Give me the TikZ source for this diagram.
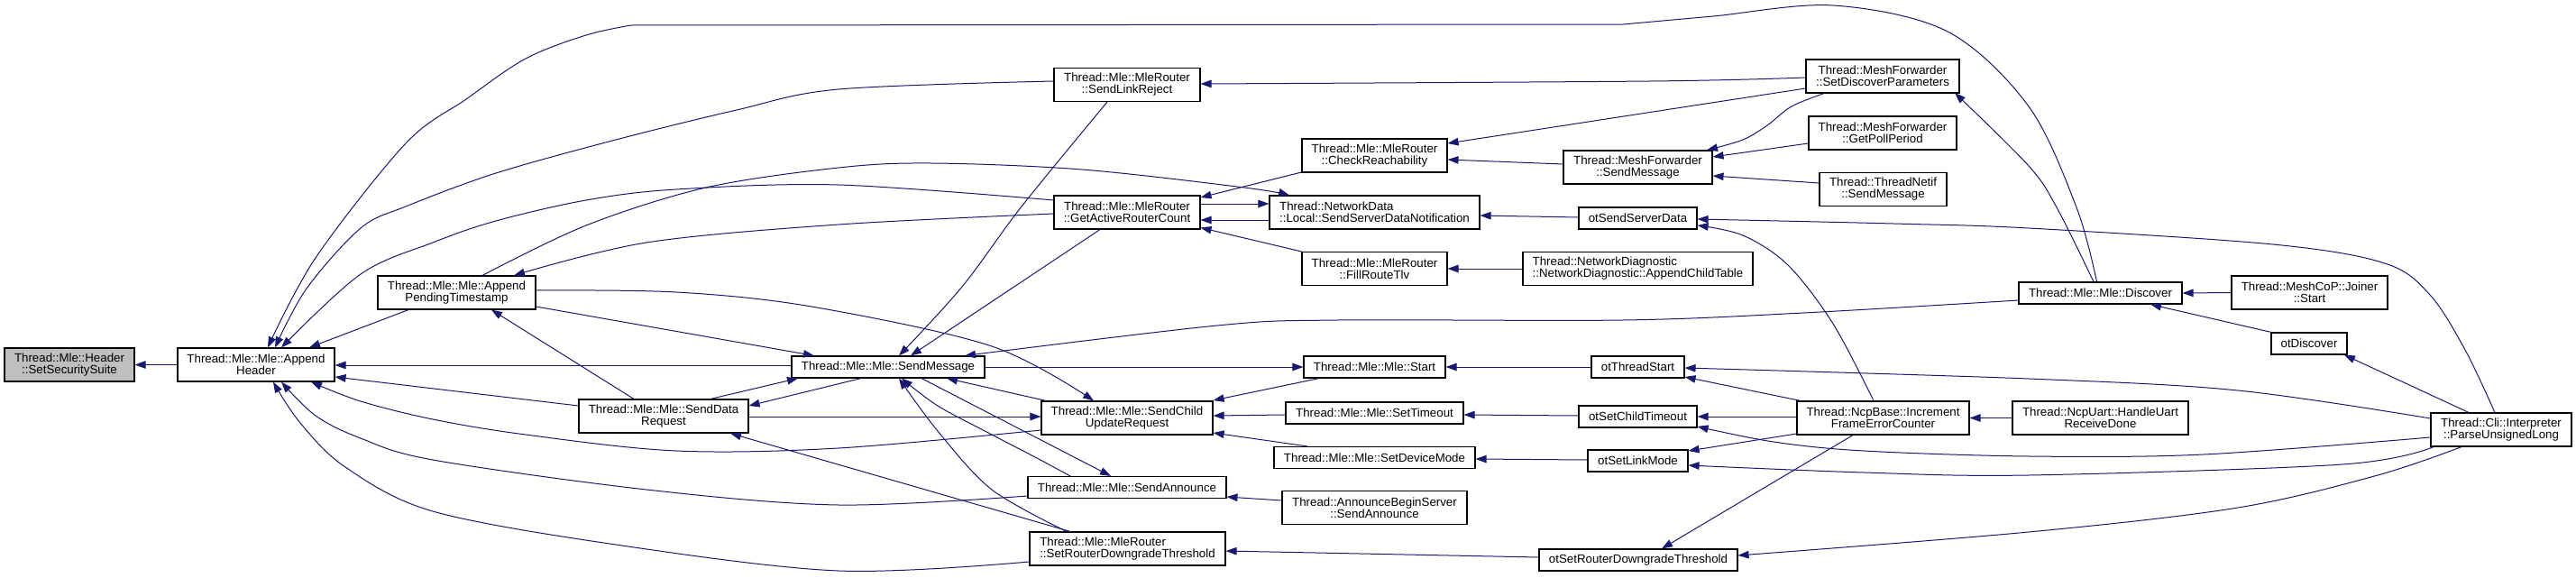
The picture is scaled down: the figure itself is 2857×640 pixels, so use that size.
\documentclass[tikz,border=0pt]{standalone}
\usepackage{fontspec}
\setmainfont{Liberation Sans}
\usetikzlibrary{arrows.meta}
\definecolor{edgeblue}{HTML}{191970}
\definecolor{rootgray}{HTML}{BFBFBF}
\begin{document}
\begin{tikzpicture}[x=1pt,y=-1pt,
  box/.style={draw=black, line width=1.1pt, fill=white, inner sep=0pt, align=center,
              font=\fontsize{13.3}{13}\selectfont},
  boxl/.style={box, align=left},
  edge/.style={draw=edgeblue, line width=1pt, -{Triangle[length=12pt,width=8.5pt]}},
  sm/.style={smooth, tension=0.55}
]
\useasboundingbox[fill=white] (0,0) rectangle (2857,640);

% ---------- nodes ----------
\node[box, fill=rootgray, minimum width=144pt, minimum height=37pt] (SSS) at (77,404.5) {Thread::Mle::Header\\::SetSecuritySuite};
\node[box, minimum width=174pt, minimum height=37pt] (AH) at (284,404.5) {Thread::Mle::Mle::Append\\Header};
\node[box, minimum width=175pt, minimum height=37pt] (APT) at (506.5,324.5) {Thread::Mle::Mle::Append\\PendingTimestamp};
\node[box, minimum width=188pt, minimum height=37pt] (SDR) at (736,461.5) {Thread::Mle::Mle::SendData\\Request};
\node[box, minimum width=214pt, minimum height=24pt] (SM) at (985,407) {Thread::Mle::Mle::SendMessage};
\node[box, minimum width=162pt, minimum height=37pt] (SLR) at (1250,94) {Thread::Mle::MleRouter\\::SendLinkReject};
\node[box, minimum width=162pt, minimum height=37pt] (GARC) at (1250,235.5) {Thread::Mle::MleRouter\\::GetActiveRouterCount};
\node[box, minimum width=190pt, minimum height=37pt] (SCUR) at (1250,463.5) {Thread::Mle::Mle::SendChild\\UpdateRequest};
\node[box, minimum width=220pt, minimum height=24pt] (SA) at (1250,540.5) {Thread::Mle::Mle::SendAnnounce};
\node[boxl, minimum width=217pt, minimum height=37pt] (SRDT) at (1250.5,608.5) {Thread::Mle::MleRouter\\::SetRouterDowngradeThreshold};
\node[box, minimum width=161pt, minimum height=37pt] (CR) at (1524.5,172.5) {Thread::Mle::MleRouter\\::CheckReachability};
\node[boxl, minimum width=233pt, minimum height=37pt] (SSDN) at (1524.5,235.5) {Thread::NetworkData\\::Local::SendServerDataNotification};
\node[box, minimum width=161pt, minimum height=37pt] (FRT) at (1524.5,298) {Thread::Mle::MleRouter\\::FillRouteTlv};
\node[box, minimum width=157pt, minimum height=24pt] (Start) at (1524.5,407) {Thread::Mle::Mle::Start};
\node[box, minimum width=197pt, minimum height=24pt] (STO) at (1524.5,458) {Thread::Mle::Mle::SetTimeout};
\node[box, minimum width=223pt, minimum height=24pt] (SDM) at (1524.5,507.5) {Thread::Mle::Mle::SetDeviceMode};
\node[box, minimum width=205pt, minimum height=37pt] (ABS) at (1524.5,563) {Thread::AnnounceBeginServer\\::SendAnnounce};
\node[box, minimum width=165pt, minimum height=37pt] (MFSM) at (1816.5,185.5) {Thread::MeshForwarder\\::SendMessage};
\node[box, minimum width=131pt, minimum height=24pt] (otSSD) at (1816.5,242) {otSendServerData};
\node[boxl, minimum width=255pt, minimum height=37pt] (NetDiag) at (1816.5,298) {Thread::NetworkDiagnostic\\::NetworkDiagnostic::AppendChildTable};
\node[box, minimum width=103pt, minimum height=24pt] (otTS) at (1816.5,407) {otThreadStart};
\node[box, minimum width=131pt, minimum height=24pt] (otSCT) at (1816.5,462) {otSetChildTimeout};
\node[box, minimum width=111pt, minimum height=24pt] (otSLM) at (1816.5,511) {otSetLinkMode};
\node[box, minimum width=220pt, minimum height=24pt] (otSRDT) at (1817,621) {otSetRouterDowngradeThreshold};
\node[box, minimum width=170pt, minimum height=37pt] (SDP) at (2088,84.5) {Thread::MeshForwarder\\::SetDiscoverParameters};
\node[box, minimum width=164pt, minimum height=37pt] (GPP) at (2088,147.5) {Thread::MeshForwarder\\::GetPollPeriod};
\node[box, minimum width=141pt, minimum height=37pt] (TNSM) at (2088.5,210) {Thread::ThreadNetif\\::SendMessage};
\node[box, minimum width=191pt, minimum height=37pt] (IFEC) at (2088.5,463.5) {Thread::NcpBase::Increment\\FrameErrorCounter};
\node[box, minimum width=181pt, minimum height=24pt] (Discover) at (2329.5,325) {Thread::Mle::Mle::Discover};
\node[box, minimum width=195pt, minimum height=37pt] (HURD) at (2329.5,463.5) {Thread::NcpUart::HandleUart\\ReceiveDone};
\node[box, minimum width=173pt, minimum height=37pt] (Joiner) at (2561.5,324.5) {Thread::MeshCoP::Joiner\\::Start};
\node[box, minimum width=84pt, minimum height=24pt] (otDiscover) at (2561,381) {otDiscover};
\node[box, minimum width=156pt, minimum height=37pt] (PUL) at (2774,476.5) {Thread::Cli::Interpreter\\::ParseUnsignedLong};

% ---------- edges ----------
\draw[edge] (AH.west) -- (SSS.east);
\draw[edge] plot[sm] coordinates {([xshift=-4pt]Discover.north) (2303,230) (2250,118) (2160,35) (2033,6) (1900,18) (1800,27)}
   -- plot[sm] coordinates {(700,28) (650,39) (583,65) (517,110) (450,159) (350,286) ([xshift=13pt]AH.north)};
\draw[edge] plot[sm] coordinates {([yshift=4pt]SLR.west) (930,99) (817,122) (683,155) (550,192) (450,229) (400,253) (340,320) ([xshift=21pt]AH.north)};
\draw[edge] plot[sm] coordinates {([yshift=13.5pt]GARC.west) (930,205) (750,210) (650,222) (550,245) (480,269) (400,304) ([xshift=28pt]AH.north)};
\draw[edge] ([xshift=-53.5pt]APT.south) -- ([xshift=59pt]AH.north);
\draw[edge] ([yshift=2pt]SM.west) -- ([yshift=-0.5pt]AH.east);
\draw[edge] ([yshift=11.5pt]SDR.west) -- ([yshift=-13.5pt]AH.east);
\draw[edge] plot[sm] coordinates {([yshift=-13.5pt]SCUR.west) (930,497) (750,500) (583,482) (480,465) (400,445) ([xshift=61pt]AH.south)};
\draw[edge] plot[sm] coordinates {([yshift=-9.5pt]SA.west) (930,560) (717,543) (480,510) (400,486) (350,461) ([xshift=28pt]AH.south)};
\draw[edge] plot[sm] coordinates {([yshift=-14.5pt]SRDT.west) (930,633) (683,604) (480,567) (383,518) (333,469) ([xshift=19pt]AH.south)};
\draw[edge] plot[sm] coordinates {([xshift=28.5pt]APT.north) (650,250) (783,208) (930,186) (1033,181) (1200,188) (1380,208) ([xshift=-94.5pt]SSDN.north)};
\draw[edge] plot[sm] coordinates {([yshift=-1.5pt]GARC.west) (930,249) (717,269) ([xshift=63.5pt]APT.north)};
\draw[edge] plot[sm] coordinates {([yshift=2.5pt]APT.east) (750,324) (900,340) (1100,384) ([xshift=-37pt]SCUR.north)};
\draw[edge] ([yshift=-15.5pt]APT.east) -- ([xshift=-82pt]SM.north);
\draw[edge] ([xshift=-33pt]SDR.north) -- ([xshift=38.5pt]APT.south);
\draw[edge] ([xshift=52pt]SDR.north) -- ([xshift=-100pt]SM.south);
\draw[edge] ([xshift=-30pt]SM.south) -- ([yshift=11.5pt]SDR.east);
\draw[edge] ([yshift=-0.5pt]SDR.east) -- ([yshift=1.5pt]SCUR.west);
\draw[edge] ([xshift=-63.5pt]SRDT.north) -- ([xshift=74pt]SDR.south);
\draw[edge] plot[sm] coordinates {([xshift=-22pt]SLR.south) (1133,229) (1067,318) ([xshift=12pt]SM.north)};
\draw[edge] ([xshift=-30pt]GARC.south) -- ([xshift=25pt]SM.north);
\draw[edge] plot[sm] coordinates {([yshift=-8pt]Discover.west) (2000,347) (1800,355) (1483,355) (1350,361) ([xshift=85pt]SM.north)};
\draw[edge] (SM.east) -- (Start.west);
\draw[edge] ([xshift=-90pt]SCUR.north) -- ([xshift=65pt]SM.south);
\draw[edge] ([xshift=37pt]SM.south) -- ([xshift=-18pt]SA.north);
\draw[edge] plot[sm] coordinates {([xshift=-63pt]SA.north) (1150,508) (1100,482) (1040,450) ([xshift=15pt]SM.south)};
\draw[edge] plot[sm] coordinates {([xshift=-67.5pt]SRDT.north) (1100,543) (1040,478) ([xshift=12pt]SM.south)};
\draw[edge] ([xshift=-61.5pt]Start.south) -- ([yshift=19.5pt]SCUR.east);
\draw[edge] ([yshift=-2pt]STO.west) -- ([yshift=2.5pt]SCUR.east);
\draw[edge] ([xshift=-74.5pt]SDM.north) -- ([yshift=-16.5pt]SCUR.east);
\draw[edge] ([yshift=8pt]ABS.west) -- ([yshift=-10.5pt]SA.east);
\draw[edge] ([yshift=3pt]otSRDT.west) -- ([yshift=-2.5pt]SRDT.east);
\draw[edge] plot[sm] coordinates {([yshift=-1.5pt]SDP.west) (1830,90) ([yshift=1pt]SLR.east)};
\draw[edge] ([yshift=-18.5pt]CR.west) -- ([yshift=16.5pt]GARC.east);
\draw[edge] ([yshift=9.5pt]GARC.east) -- ([yshift=9.5pt]SSDN.west);
\draw[edge] ([yshift=-8.5pt]SSDN.west) -- ([yshift=-8.5pt]GARC.east);
\draw[edge] (FRT.north west) -- ([yshift=-17pt]GARC.east);
\draw[edge] ([yshift=-13.5pt]SDP.west) -- ([yshift=13.5pt]CR.east);
\draw[edge] ([yshift=3.5pt]MFSM.west) -- ([yshift=-4.5pt]CR.east);
\draw[edge] ([yshift=1pt]otSSD.west) -- ([yshift=-3.5pt]SSDN.east);
\draw[edge] (NetDiag.west) -- (FRT.east);
\draw[edge] (otTS.west) -- (Start.east);
\draw[edge] ([yshift=1pt]otSCT.west) -- ([yshift=-2pt]STO.east);
\draw[edge] ([yshift=1pt]otSLM.west) -- ([yshift=-1.5pt]SDM.east);
\draw[edge] plot[sm] coordinates {([xshift=-65pt]SDP.south) (1987,118) (1960,139) (1933,155) ([xshift=76.5pt]MFSM.north)};
\draw[edge] ([yshift=-11.5pt]GPP.west) -- ([yshift=11.5pt]MFSM.east);
\draw[edge] ([yshift=7pt]TNSM.west) -- ([yshift=-9.5pt]MFSM.east);
\draw[edge] plot[sm] coordinates {([xshift=-7pt]PUL.north) (2734,388) (2695,327) (2645,292) (2521,271) (2250,253) (2100,248) ([yshift=-1pt]otSSD.east)};
\draw[edge] plot[sm] coordinates {([xshift=-10.5pt]IFEC.north) (2033,359) (1983,294) (1933,261) ([yshift=-8pt]otSSD.east)};
\draw[edge] plot[sm] coordinates {([yshift=12.5pt]PUL.west) (2482,433) (2250,420) ([yshift=-1pt]otTS.east)};
\draw[edge] ([xshift=-91.5pt]IFEC.north) -- ([yshift=-11pt]otTS.east);
\draw[edge] ([yshift=1.5pt]IFEC.west) -- (otSCT.east);
\draw[edge] plot[sm] coordinates {([yshift=-8.5pt]PUL.west) (2444,504) (2250,506) (2067,500) (1967,490) ([yshift=-11pt]otSCT.east)};
\draw[edge] ([yshift=-17.5pt]IFEC.west) -- ([yshift=11pt]otSLM.east);
\draw[edge] plot[sm] coordinates {([xshift=-75pt]PUL.south) (2598,515) (2250,527) (2067,524) ([yshift=-5pt]otSLM.east)};
\draw[edge] ([xshift=-33.5pt]IFEC.south) -- ([xshift=26pt]otSRDT.north);
\draw[edge] plot[sm] coordinates {([xshift=-44pt]PUL.south) (2637,527) (2482,563) (2250,590) ([yshift=5pt]otSRDT.east)};
\draw[edge] (HURD.west) -- (IFEC.east);
\draw[edge] plot[sm] coordinates {([xshift=-7.5pt]Discover.north) (2281,230) (2250,184) (2168,103)};
\draw[edge] (Joiner.west) -- (Discover.east);
\draw[edge] ([xshift=-42pt]otDiscover.north) -- ([xshift=55.5pt]Discover.south);
\draw[edge] ([xshift=-36pt]PUL.north) -- ([xshift=39pt]otDiscover.south);
\end{tikzpicture}
\end{document}
